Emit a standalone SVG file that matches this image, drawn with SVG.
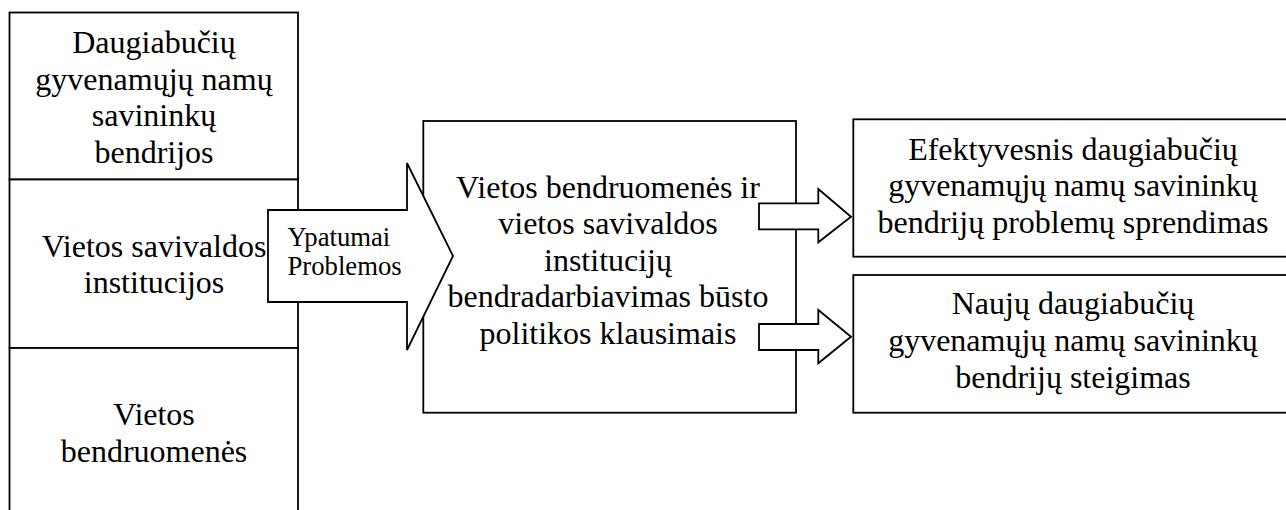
<svg xmlns="http://www.w3.org/2000/svg" width="1286" height="510" viewBox="0 0 1286 510">
<style>
.box{fill:#fff;stroke:#000;stroke-width:1.8}
.arr{fill:#fff;stroke:#000;stroke-width:1.8;stroke-linejoin:miter}
.t{font-family:"Liberation Serif","Times New Roman",serif;font-size:32px;fill:#000;text-anchor:middle}
.s{font-family:"Liberation Serif","Times New Roman",serif;font-size:26.7px;fill:#000}
</style>
<rect width="1286" height="510" fill="#fff"/>
<g id="node-bendrijos">
<rect class="box" x="9.5" y="12.5" width="288.5" height="167"/>
<text class="t" x="154" y="53">Daugiabučių</text>
<text class="t" x="154" y="89.5">gyvenamųjų namų</text>
<text class="t" x="154" y="126">savininkų</text>
<text class="t" x="154" y="162.5">bendrijos</text>
</g>
<g id="node-savivalda">
<rect class="box" x="9.5" y="179.5" width="288.5" height="168.5"/>
<text class="t" x="154" y="256.5">Vietos savivaldos</text>
<text class="t" x="154" y="293">institucijos</text>
</g>
<g id="node-bendruomenes">
<rect class="box" x="9.5" y="348" width="288.5" height="180"/>
<text class="t" x="154" y="424.5">Vietos</text>
<text class="t" x="154" y="462">bendruomenės</text>
</g>
<g id="node-bendradarbiavimas">
<rect class="box" x="423.3" y="121" width="372.7" height="291.7"/>
<text class="t" x="608" y="197.5">Vietos bendruomenės ir</text>
<text class="t" x="608" y="234">vietos savivaldos</text>
<text class="t" x="608" y="270.5">institucijų</text>
<text class="t" x="608" y="307">bendradarbiavimas būsto</text>
<text class="t" x="608" y="343.5">politikos klausimais</text>
</g>
<g id="node-efektyvesnis">
<rect class="box" x="853.3" y="119.3" width="440" height="137.4"/>
<text class="t" x="1073" y="159.5">Efektyvesnis daugiabučių</text>
<text class="t" x="1073" y="196.3">gyvenamųjų namų savininkų</text>
<text class="t" x="1073" y="233">bendrijų problemų sprendimas</text>
</g>
<g id="node-steigimas">
<rect class="box" x="853.3" y="275" width="440" height="137.7"/>
<text class="t" x="1073" y="313.5">Naujų daugiabučių</text>
<text class="t" x="1073" y="350.5">gyvenamųjų namų savininkų</text>
<text class="t" x="1073" y="387.5">bendrijų steigimas</text>
</g>
<g id="connectors">
<g id="arrow-main">
<polygon class="arr" points="268,210 407,210 407,163 453,256 407,350 407,302 268,302"/>
<text class="s" x="287.5" y="246">Ypatumai</text>
<text class="s" x="287.5" y="275.3">Problemos</text>
</g>
<polygon id="arrow-1" class="arr" points="759,203.3 818.3,203.3 818.3,189 851,216.7 818.3,242.3 818.3,229.3 759,229.3"/>
<polygon id="arrow-2" class="arr" points="759,324 818.3,324 818.3,310 851,336.7 818.3,363.3 818.3,350 759,350"/>
</g>
</svg>
